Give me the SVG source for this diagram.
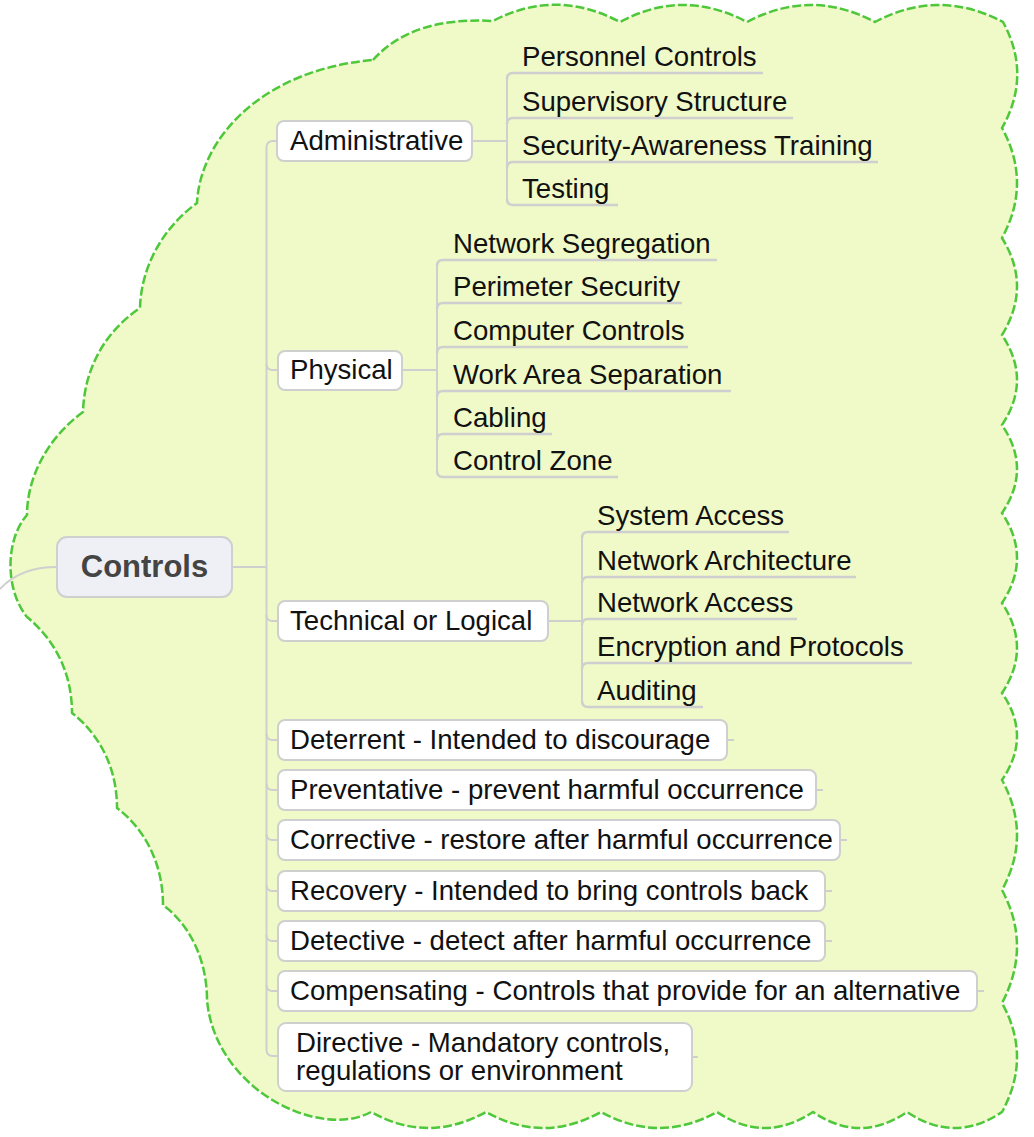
<svg xmlns="http://www.w3.org/2000/svg" width="1034" height="1137" viewBox="0 0 1034 1137">
<style>
.cloud{fill:#f0f9c8;stroke:#4ec83a;stroke-width:2.5;stroke-dasharray:9 3}
.ln{fill:none;stroke:#cfcfcf;stroke-width:2}
.ul{fill:none;stroke:#cfcfcf;stroke-width:2.5}
.box{fill:#ffffff;stroke:#cfcfcf;stroke-width:2}
.root{fill:#eef0f5;stroke:#cfcfcf;stroke-width:2}
.t{font-family:"Liberation Sans",Arial,Helvetica,sans-serif;font-size:27.6px;fill:#111}
.rt{font-family:"Liberation Sans",Arial,Helvetica,sans-serif;font-size:31px;font-weight:bold;fill:#444}
</style>
<rect width="1034" height="1137" fill="#ffffff"/>
<path class="cloud" d="M373,60 C400,30 440,18 493,21 Q556,-12 620,22 Q683,-12 747,22 Q811,-12 875,22 Q939,-12 1003,22 Q1032,75 1002,128 Q1032,183 1002,238 Q1032,286 1002,335 Q1032,380 1002,425 Q1032,469 1002,513 Q1032,558 1002,603 Q1032,648 1002,693 Q1032,736 1002,780 Q1032,835 1002,890 Q1032,946 1002,1003 Q1032,1057 1002,1112 Q955,1144 907,1112 Q860,1144 813,1112 Q765,1144 717,1112 Q659,1144 601,1112 Q543,1144 486,1112 Q428,1144 371,1112 C320,1140 215,1090 207,1000 C207,960 190,925 163,905 C163,865 146,830 117,808 C117,768 100,735 72,713 C72,673 55,640 27,617 C5,590 5,540 27,515 C27,480 45,440 83,412 C84,375 100,335 140,308 C141,270 160,230 197,203 C200,140 260,70 373,60 Z"/>
<g id="connectors">
<path class="ln" d="M0,589 Q20,567 57,567"/>
<path class="ln" d="M232,567 H266.5"/>
<path class="ln" d="M278,141 H273 Q266.5,141 266.5,147.5 V1049.5 Q266.5,1056 273,1056 H278"/>
<path class="ln" d="M266.5,364 Q266.5,370 272.5,370 H278"/>
<path class="ln" d="M266.5,615 Q266.5,621 272.5,621 H278"/>
<path class="ln" d="M266.5,734 Q266.5,740 272.5,740 H278"/>
<path class="ln" d="M266.5,784 Q266.5,790 272.5,790 H278"/>
<path class="ln" d="M266.5,834 Q266.5,840 272.5,840 H278"/>
<path class="ln" d="M266.5,885 Q266.5,891 272.5,891 H278"/>
<path class="ln" d="M266.5,935 Q266.5,941 272.5,941 H278"/>
<path class="ln" d="M266.5,985 Q266.5,991 272.5,991 H278"/>
<path class="ln" d="M472,141 H507"/>
<path class="ln" d="M507,79 V199"/>
<path class="ul" d="M507,79 Q507,73 513,73 H763"/>
<path class="ul" d="M507,124 Q507,118 513,118 H793"/>
<path class="ul" d="M507,168 Q507,162 513,162 H878"/>
<path class="ul" d="M507,199 Q507,205 513,205 H618"/>
<path class="ln" d="M402,370 H437"/>
<path class="ln" d="M437,266 V471"/>
<path class="ul" d="M437,266 Q437,260 443,260 H717"/>
<path class="ul" d="M437,309 Q437,303 443,303 H682"/>
<path class="ul" d="M437,353 Q437,347 443,347 H688"/>
<path class="ul" d="M437,397 Q437,391 443,391 H731"/>
<path class="ul" d="M437,440 Q437,434 443,434 H552"/>
<path class="ul" d="M437,471 Q437,477 443,477 H618"/>
<path class="ln" d="M548,621 H582"/>
<path class="ln" d="M582,538 V701"/>
<path class="ul" d="M582,538 Q582,532 588,532 H789"/>
<path class="ul" d="M582,583 Q582,577 588,577 H856"/>
<path class="ul" d="M582,625 Q582,619 588,619 H797"/>
<path class="ul" d="M582,669 Q582,663 588,663 H912"/>
<path class="ul" d="M582,701 Q582,707 588,707 H703"/>
<path class="ln" d="M727,740 H734"/>
<path class="ln" d="M816,790 H823"/>
<path class="ln" d="M840,840 H847"/>
<path class="ln" d="M825,891 H832"/>
<path class="ln" d="M825,941 H832"/>
<path class="ln" d="M977,991 H984"/>
<path class="ln" d="M692,1057 H698"/>
</g>
<g id="controls"><rect class="root" x="57" y="537" width="175" height="60" rx="10"/><text class="rt" x="144.5" y="577" text-anchor="middle">Controls</text></g>
<g id="administrative"><rect class="box" x="277" y="121" width="195" height="40" rx="7"/><text class="t" x="290" y="150">Administrative</text></g>
<g id="personnel-controls"><text class="t" x="522" y="66">Personnel Controls</text></g>
<g id="supervisory-structure"><text class="t" x="522" y="111">Supervisory Structure</text></g>
<g id="security-awareness"><text class="t" x="522" y="155">Security-Awareness Training</text></g>
<g id="testing"><text class="t" x="522" y="198">Testing</text></g>
<g id="physical"><rect class="box" x="278" y="351" width="124" height="39" rx="7"/><text class="t" x="290" y="379">Physical</text></g>
<g id="network-segregation"><text class="t" x="453" y="253">Network Segregation</text></g>
<g id="perimeter-security"><text class="t" x="453" y="296">Perimeter Security</text></g>
<g id="computer-controls"><text class="t" x="453" y="340">Computer Controls</text></g>
<g id="work-area-separation"><text class="t" x="453" y="384">Work Area Separation</text></g>
<g id="cabling"><text class="t" x="453" y="427">Cabling</text></g>
<g id="control-zone"><text class="t" x="453" y="470">Control Zone</text></g>
<g id="technical"><rect class="box" x="278" y="601" width="270" height="40" rx="7"/><text class="t" x="290" y="630">Technical or Logical</text></g>
<g id="system-access"><text class="t" x="597" y="525">System Access</text></g>
<g id="network-architecture"><text class="t" x="597" y="570">Network Architecture</text></g>
<g id="network-access"><text class="t" x="597" y="612">Network Access</text></g>
<g id="encryption"><text class="t" x="597" y="656">Encryption and Protocols</text></g>
<g id="auditing"><text class="t" x="597" y="700">Auditing</text></g>
<g id="deterrent"><rect class="box" x="278" y="720" width="449" height="40" rx="7"/><text class="t" x="290" y="749">Deterrent - Intended to discourage</text></g>
<g id="preventative"><rect class="box" x="278" y="770" width="538" height="40" rx="7"/><text class="t" x="290" y="799">Preventative - prevent harmful occurrence</text></g>
<g id="corrective"><rect class="box" x="278" y="820" width="562" height="40" rx="7"/><text class="t" x="290" y="849">Corrective - restore after harmful occurrence</text></g>
<g id="recovery"><rect class="box" x="278" y="871" width="547" height="40" rx="7"/><text class="t" x="290" y="900">Recovery - Intended to bring controls back</text></g>
<g id="detective"><rect class="box" x="278" y="921" width="547" height="40" rx="7"/><text class="t" x="290" y="950">Detective - detect after harmful occurrence</text></g>
<g id="compensating"><rect class="box" x="278" y="971" width="699" height="40" rx="7"/><text class="t" x="290" y="1000">Compensating - Controls that provide for an alternative</text></g>
<g id="directive"><rect class="box" x="278" y="1023" width="414" height="68" rx="8"/><text class="t" x="296" y="1052">Directive - Mandatory controls,</text><text class="t" x="296" y="1080">regulations or environment</text></g>
</svg>
